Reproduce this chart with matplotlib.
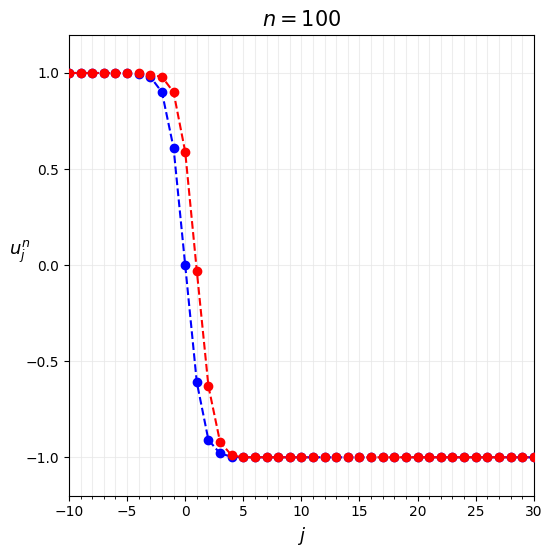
import numpy as np
import matplotlib
matplotlib.use("Agg")
import matplotlib.pyplot as plt
from matplotlib.ticker import MultipleLocator

j = np.arange(-10, 31)
blue_head = [1.0, 1.0, 1.0, 1.0, 1.0, 1.0, 0.997, 0.98, 0.90, 0.61, 0.0, -0.61, -0.91, -0.98, -0.997]
red_head = [1.0, 1.0, 1.0, 1.0, 1.0, 1.0, 1.0, 0.99, 0.98, 0.90, 0.59, -0.03, -0.63, -0.92, -0.99]
blue = blue_head + [-1.0] * (len(j) - len(blue_head))
red = red_head + [-1.0] * (len(j) - len(red_head))

fig, ax = plt.subplots(figsize=(5.52, 5.57), dpi=100)
ax.plot(j, blue, 'b--o', zorder=3)
ax.plot(j, red, 'r--o', zorder=4)
ax.set_xlim(-10, 30)
ax.set_ylim(-1.2, 1.2)
ax.xaxis.set_minor_locator(MultipleLocator(1))
ax.grid(True, which='major', color='#e6e6e6', linewidth=0.8, alpha=0.7)
ax.grid(True, which='minor', axis='x', color='#e6e6e6', linewidth=0.8, alpha=0.7)
ax.set_axisbelow(True)
ax.set_xlabel('$j$', fontsize=13)
ax.set_ylabel('$u_j^n$', fontsize=13, rotation=0)
ax.set_title('$n = 100$', fontsize=15)
fig.subplots_adjust(left=0.125, right=0.967, top=0.938, bottom=0.11)
fig.savefig('out.png')
